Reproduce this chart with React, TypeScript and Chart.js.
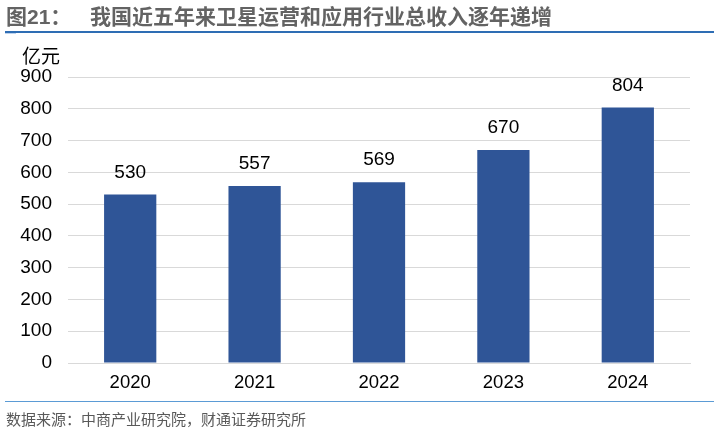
import { useEffect, useRef } from "react";
import { Chart, registerables } from "chart.js";

Chart.register(...registerables);

const years = ["2020", "2021", "2022", "2023", "2024"];
const revenue = [530, 557, 569, 670, 804];

const FONT = "Arial, 'Liberation Sans', 'Noto Sans CJK SC', sans-serif";

const valueLabels = {
  id: "valueLabels",
  afterDatasetsDraw(chart: Chart) {
    const ctx = chart.ctx;
    const meta = chart.getDatasetMeta(0);
    ctx.save();
    ctx.font = `19px ${FONT}`;
    ctx.fillStyle = "#000";
    ctx.textAlign = "center";
    ctx.textBaseline = "middle";
    meta.data.forEach((bar: any, i: number) => {
      ctx.fillText(String(revenue[i]), bar.x, bar.y - 22);
    });
    ctx.restore();
  },
};

export default function App() {
  const chartRef = useRef<HTMLCanvasElement>(null);
  const chartInstance = useRef<Chart | null>(null);

  useEffect(() => {
    if (!chartRef.current) return;
    if (chartInstance.current) chartInstance.current.destroy();
    const ctx = chartRef.current.getContext("2d");
    if (!ctx) return;

    chartInstance.current = new Chart(ctx, {
      type: "bar",
      data: {
        labels: years,
        datasets: [
          {
            data: revenue,
            backgroundColor: "#2F5597",
            categoryPercentage: 1,
            barPercentage: 0.42,
          },
        ],
      },
      options: {
        animation: false,
        responsive: false,
        layout: { padding: { left: 0, right: 30, top: 77, bottom: 0 } },
        plugins: { legend: { display: false }, tooltip: { enabled: false } },
        scales: {
          x: {
            grid: { display: false, drawTicks: false },
            border: { color: "#d9d9d9", width: 1 },
            ticks: { color: "#000", font: { size: 18.5, family: FONT }, padding: 9 },
            afterFit: (s: any) => {
              s.height = 70;
            },
          },
          y: {
            min: 0,
            max: 900,
            ticks: { stepSize: 100, color: "#000", font: { size: 19, family: FONT }, padding: 16 },
            grid: { color: "#d9d9d9", drawTicks: false },
            border: { display: false },
            afterFit: (s: any) => {
              s.width = 68;
            },
          },
        },
      },
      plugins: [valueLabels],
    });

    return () => {
      if (chartInstance.current) {
        chartInstance.current.destroy();
        chartInstance.current = null;
      }
    };
  }, []);

  const titleStyle = {
    position: "absolute" as const,
    top: 4,
    fontSize: 21,
    fontWeight: "bold" as const,
    color: "#636363",
    whiteSpace: "pre" as const,
    lineHeight: "26px",
  };

  return (
    <div
      style={{
        position: "fixed",
        left: 0,
        top: 0,
        width: 720,
        height: 433,
        background: "#fff",
        fontFamily: FONT,
      }}
    >
      <canvas ref={chartRef} width={720} height={433} style={{ position: "absolute", left: 0, top: 0 }} />
      <div style={{ ...titleStyle, left: 6 }}>图21：</div>
      <div style={{ ...titleStyle, left: 90 }}>我国近五年来卫星运营和应用行业总收入逐年递增</div>
      <div style={{ position: "absolute", left: 5, top: 31, width: 709, height: 2, background: "#2E6DB4" }} />
      <div style={{ position: "absolute", left: 5, top: 33, width: 11, height: 1, background: "#BDD3EE" }} />
      <div
        style={{
          position: "absolute",
          left: 22,
          top: 46,
          fontSize: 19,
          color: "#000",
          lineHeight: "22px",
        }}
      >
        亿元
      </div>
      <div style={{ position: "absolute", left: 5, top: 401, width: 709, height: 1, background: "#5B9BD5" }} />
      <div
        style={{
          position: "absolute",
          left: 6,
          top: 410,
          fontSize: 15,
          color: "#595959",
          lineHeight: "20px",
        }}
      >
        数据来源：中商产业研究院，财通证券研究所
      </div>
    </div>
  );
}
